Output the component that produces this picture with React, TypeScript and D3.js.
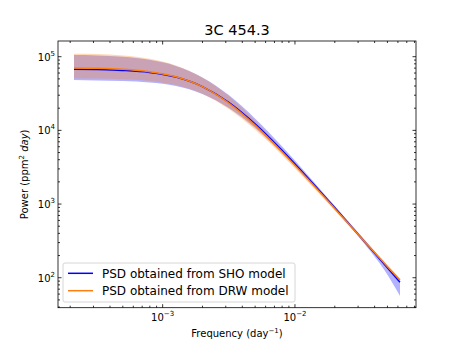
import React, { useRef, useEffect } from 'react';
import * as d3 from 'd3';

// frequencies (day^-1) read along the x axis
const freq = [2.138e-4, 3.162e-4, 5.012e-4, 7.943e-4, 1.259e-3, 1.995e-3, 3.162e-3,
  5.012e-3, 7.943e-3, 1.259e-2, 1.995e-2, 3.162e-2, 5.012e-2, 6.22e-2];

// SHO model PSD (median, upper, lower)
const shoMid = [67600, 66900, 65100, 61200, 52900, 39300, 24000, 12150, 5400, 2240, 895, 350, 135, 87];
const shoHi = [105090, 104000, 99900, 90580, 74980, 52260, 30100, 14400, 6150, 2450, 949, 370, 144, 94];
const shoLo = [48140, 47640, 46690, 44680, 40130, 31200, 20150, 10800, 4980, 2120, 850, 327, 109, 56.6];

// DRW model PSD (median, upper, lower)
const drwMid = [70500, 69700, 67500, 62580, 53510, 39210, 23470, 11680, 5165, 2151, 872.6, 350, 141, 93];
const drwHi = [109680, 108500, 104040, 93870, 75980, 52150, 29340, 13430, 5630, 2280, 916, 368, 148, 98];
const drwLo = [51000, 50450, 49330, 46940, 41200, 31370, 19480, 10160, 4650, 1980, 820, 333, 134, 88];

const xDecades = [-3, -2];
const yDecades = [2, 3, 4, 5];

const W = 463;
const H = 347;
const font = 'DejaVu Sans, sans-serif';

const App = () => {
  const svgRef = useRef<SVGSVGElement>(null);

  useEffect(() => {
    const svg = d3.select(svgRef.current);
    svg.selectAll('*').remove();

    const left = 58, right = 416, top = 41, bottom = 307.7;

    const x = d3.scaleLog().domain([1.618e-4, 0.0822]).range([left, right]);
    const y = d3.scaleLog().domain([39.2, 163300]).range([bottom, top]);

    svg.append('rect').attr('width', W).attr('height', H).attr('fill', 'white');

    const clipId = 'plotclip';
    svg.append('clipPath').attr('id', clipId)
      .append('rect').attr('x', left).attr('y', top)
      .attr('width', right - left).attr('height', bottom - top);

    const g = svg.append('g').attr('clip-path', `url(#${clipId})`);

    const band = (hi, lo) => d3.area<number>()
      .x((_, i) => x(freq[i]))
      .y0((_, i) => y(lo[i]))
      .y1((_, i) => y(hi[i]))
      .curve(d3.curveMonotoneX)(freq);

    const line = (vals) => d3.line<number>()
      .x((_, i) => x(freq[i]))
      .y((_, i) => y(vals[i]))
      .curve(d3.curveMonotoneX)(freq);

    g.append('path').attr('d', band(shoHi, shoLo)).attr('fill', 'blue').attr('fill-opacity', 0.3);
    g.append('path').attr('d', band(drwHi, drwLo)).attr('fill', '#ff7f0e').attr('fill-opacity', 0.3);
    g.append('path').attr('d', line(shoMid)).attr('fill', 'none')
      .attr('stroke', 'blue').attr('stroke-width', 1.5);
    g.append('path').attr('d', line(drwMid)).attr('fill', 'none')
      .attr('stroke', '#ff7f0e').attr('stroke-width', 1.5);

    // ticks, pointing inwards on all four sides
    const ticks = svg.append('g').attr('stroke', 'black').attr('stroke-width', 0.8);
    const [x0, x1] = x.domain();
    for (let e = -4; e <= -1; e++) {
      for (let m = 1; m <= 9; m++) {
        const v = m * Math.pow(10, e);
        if (v < x0 || v > x1) continue;
        const len = m === 1 ? 3.5 : 2;
        const px = x(v);
        ticks.append('line').attr('x1', px).attr('x2', px).attr('y1', bottom).attr('y2', bottom - len);
        ticks.append('line').attr('x1', px).attr('x2', px).attr('y1', top).attr('y2', top + len);
      }
    }
    const [y0, y1] = y.domain();
    for (let e = 1; e <= 5; e++) {
      for (let m = 1; m <= 9; m++) {
        const v = m * Math.pow(10, e);
        if (v < y0 || v > y1) continue;
        const len = m === 1 ? 3.5 : 2;
        const py = y(v);
        ticks.append('line').attr('x1', left).attr('x2', left + len).attr('y1', py).attr('y2', py);
        ticks.append('line').attr('x1', right).attr('x2', right - len).attr('y1', py).attr('y2', py);
      }
    }

    svg.append('rect').attr('x', left).attr('y', top)
      .attr('width', right - left).attr('height', bottom - top)
      .attr('fill', 'none').attr('stroke', 'black').attr('stroke-width', 0.8);

    const pow = (sel, e) => {
      sel.append('tspan').text('10');
      sel.append('tspan').attr('dy', -5).attr('font-size', 7).text(e < 0 ? `\u2212${-e}` : `${e}`);
    };

    xDecades.forEach(e => {
      const t = svg.append('text').attr('x', x(Math.pow(10, e))).attr('y', 321)
        .attr('text-anchor', 'middle').attr('font-family', font).attr('font-size', 10);
      pow(t, e);
    });
    yDecades.forEach(e => {
      const t = svg.append('text').attr('x', 55).attr('y', y(Math.pow(10, e)) + 4)
        .attr('text-anchor', 'end').attr('font-family', font).attr('font-size', 10);
      pow(t, e);
    });

    svg.append('text').attr('x', (left + right) / 2).attr('y', 35)
      .attr('text-anchor', 'middle').attr('font-family', font).attr('font-size', 14.5)
      .text('3C 454.3');

    const xl = svg.append('text').attr('x', (left + right) / 2).attr('y', 337)
      .attr('text-anchor', 'middle').attr('font-family', font).attr('font-size', 10);
    xl.append('tspan').text('Frequency (day');
    xl.append('tspan').attr('dy', -4).attr('font-size', 7).text('\u22121');
    xl.append('tspan').attr('dy', 4).text(')');

    const yl = svg.append('text')
      .attr('transform', `translate(28, ${(top + bottom) / 2}) rotate(-90)`)
      .attr('text-anchor', 'middle').attr('font-family', font).attr('font-size', 10);
    yl.append('tspan').text('Power (ppm');
    yl.append('tspan').attr('dy', -4).attr('font-size', 7).text('2');
    yl.append('tspan').attr('dy', 4).text(' ');
    yl.append('tspan').attr('font-style', 'italic').text('day');
    yl.append('tspan').text(')');

    // legend
    const lg = svg.append('g');
    lg.append('rect').attr('x', 63).attr('y', 263).attr('width', 232).attr('height', 39)
      .attr('rx', 2).attr('fill', 'white').attr('fill-opacity', 0.8)
      .attr('stroke', '#cccccc').attr('stroke-width', 0.8);
    [['blue', 'PSD obtained from SHO model'], ['#ff7f0e', 'PSD obtained from DRW model']]
      .forEach(([c, label], i) => {
        const ly = 273.3 + i * 17.4;
        lg.append('line').attr('x1', 68).attr('x2', 93).attr('y1', ly).attr('y2', ly)
          .attr('stroke', c).attr('stroke-width', 1.5);
        lg.append('text').attr('x', 102).attr('y', ly + 4.3)
          .attr('font-family', font).attr('font-size', 12).text(label);
      });
  }, []);

  return (
    <div style={{ position: 'absolute', left: 0, top: 0 }}>
      <svg ref={svgRef} width={W} height={H} style={{ display: 'block' }} />
    </div>
  );
};

export default App;
